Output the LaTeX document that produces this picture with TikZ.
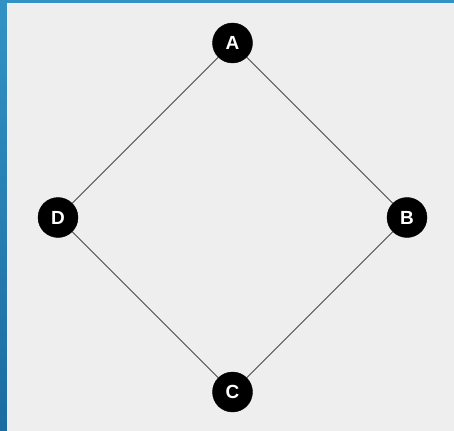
\documentclass[tikz,border=0pt]{standalone}
\usepackage{fontspec}
\setmainfont{Liberation Sans}
\usepackage{tikz}

\definecolor{framebluetop}{HTML}{3392C4}
\definecolor{frameblueend}{HTML}{1B6CA0}
\definecolor{paneback}{HTML}{EEEEEE}
\definecolor{edgegray}{HTML}{4A4A4A}

\tikzset{
  vertex/.style={circle, fill=black, draw=black, minimum size=40pt, inner sep=0pt,
    text=white, font=\fontsize{19}{19}\selectfont\bfseries},
  link/.style={draw=edgegray, line width=0.8pt}
}

\begin{document}
\begin{tikzpicture}[x=1pt,y=-1pt]
\useasboundingbox (0,0) rectangle (454,430);

% Frame and panel
\shade[top color=framebluetop, bottom color=frameblueend] (0,0) rectangle (454,430);
\fill[paneback] (7,3) rectangle (460,436);

% Vertices
\node[vertex] (a) at (232.5,43) {A};
\node[vertex] (b) at (407,217.5) {B};
\node[vertex] (c) at (232.5,392) {C};
\node[vertex] (d) at (58,217.5) {D};

% Edges of the square
\draw[link] (a)--(b);
\draw[link] (b)--(c);
\draw[link] (c)--(d);
\draw[link] (d)--(a);

\end{tikzpicture}
\end{document}
